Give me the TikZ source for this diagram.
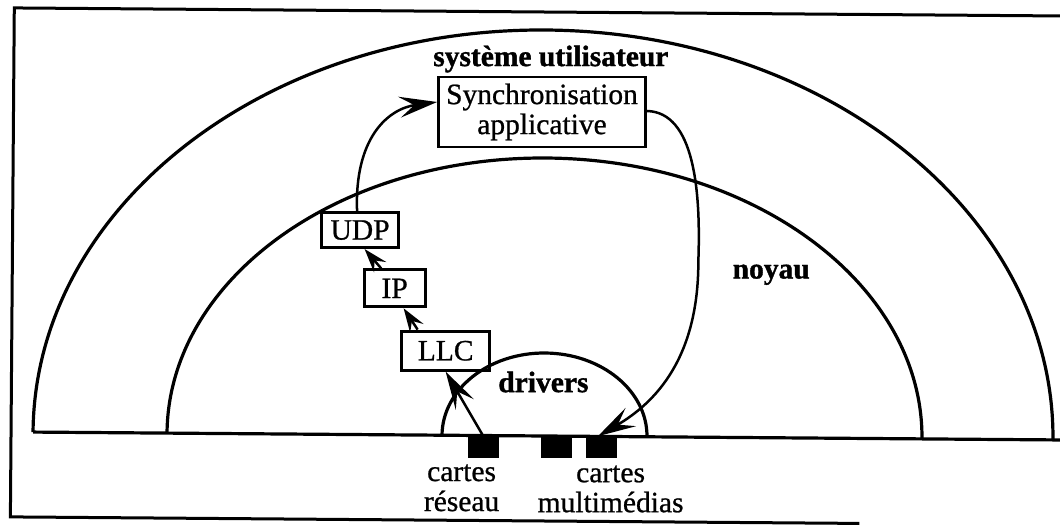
\documentclass[tikz,border=0pt]{standalone}
\usepackage{fontspec}
\setmainfont{Liberation Serif}[FakeBold=0.8, BoldFeatures={FakeBold=1.2}]
\usetikzlibrary{arrows.meta,calc}
\begin{document}
\begin{tikzpicture}[x=1pt,y=1pt,
  txt/.style={font=\fontsize{29.5}{30}\selectfont, inner sep=0pt},
  lbl/.style={font=\fontsize{29.5}{30}\selectfont\bfseries, inner sep=0pt},
  layer/.style={line width=3.2pt},
  box/.style={txt, draw, line width=2.8pt, align=center},
  card/.style={fill=black, draw=none, minimum width=31pt, minimum height=21pt, inner sep=0pt},
  flow/.style={line width=2.5pt, -{Stealth[length=38pt,width=21pt,inset=15pt]}},
  shortflow/.style={line width=2.5pt, -{Stealth[length=24pt,width=16pt,inset=9pt]}}]
\useasboundingbox (0,0) rectangle (1060,527);
\begin{scope}[rotate around={-0.44:(544,91)}]
  % outer frame (its right side runs off the page)
  \draw[line width=3pt] (1075,515) -- (11,515) -- (11,6) -- (860,6);
  % ground line and the three nested layers
  \draw[layer] (33,91) -- (1075,91);
  \draw[layer] (33,91) arc[start angle=180, end angle=0, x radius=510, y radius=406];
  \draw[layer] (167,91) arc[start angle=180, end angle=0, x radius=377.5, y radius=278];
  \draw[layer] (442,91) arc[start angle=180, end angle=0, x radius=102.5, y radius=83];

  % layer names
  \node[lbl, anchor=base] (user) at (548,461) {système utilisateur};
  \node[lbl] (kernel) at (770,254) {noyau};
  \node[lbl] (drv) at (543,145) {drivers};

  % protocol stack
  \node[box, minimum width=207pt, minimum height=70pt] (sync) at (539.5,415) {Synchronisation\\applicative};
  \node[box, minimum width=77pt, minimum height=35pt] (udp) at (358.5,295.5) {UDP};
  \node[box, minimum width=61pt, minimum height=37pt] (ip) at (393.5,237.5) {IP};
  \node[box, minimum width=88pt, minimum height=39pt] (llc) at (445,175.5) {LLC};

  % hardware cards
  \node[card] (card1) at (483.5,79.5) {};
  \node[card] (card2) at (557,79.5) {};
  \node[card] (card3) at (602,79.5) {};
  \node[txt, align=center] (netlbl) at (462,38.5) {cartes\\réseau};
  \node[txt, align=center] (mmlbl) at (611,38.5) {cartes\\multimédias};

  % data path
  \draw[flow] (card1.north) -- (llc.south);
  \draw[shortflow] ($(llc.north)+(-28,0)$) -- ($(ip.south)+(9,0)$);
  \draw[shortflow] ($(ip.north)+(-13.5,0)$) -- ($(udp.south)+(4.5,0)$);
  \draw[flow] ($(udp.north)+(-3,0)$) .. controls (352,387) and (385,417) .. ($(sync.west)+(0,10)$);
  \draw[flow] ($(sync.east)+(0,1)$) .. controls (692,416) and (699,337) .. (697,267)
              .. controls (698,170) and (655,125) .. ($(card3.north)+(-4,1)$);
\end{scope}
\end{tikzpicture}
\end{document}
